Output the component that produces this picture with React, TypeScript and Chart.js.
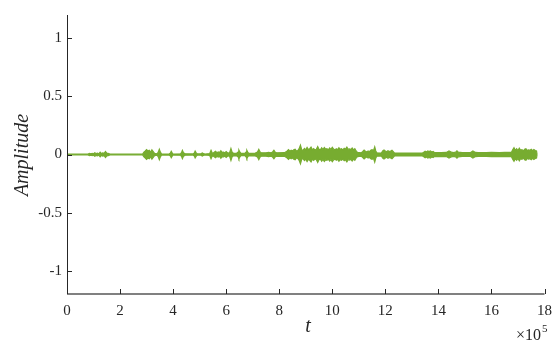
import React, { useEffect, useRef } from "react";
import { Chart, registerables } from "chart.js";

Chart.register(...registerables);

// envelope of the waveform: time (x 1e5 samples) and half-amplitude
const envTime = [
  0, 0.79, 0.85, 0.9, 0.95, 1.0, 1.05, 1.1, 1.15, 1.2, 1.25, 1.3, 1.35, 1.4, 1.45, 1.5, 1.55, 1.62,
  2.85, 2.9, 2.95, 3.0, 3.05, 3.1, 3.15, 3.2, 3.25, 3.3, 3.4, 3.44, 3.48, 3.52, 3.56,
  3.85, 3.9, 3.93, 3.97, 4.0, 4.28, 4.32, 4.35, 4.39, 4.45, 4.75, 4.8, 4.83, 4.87, 4.92,
  5.05, 5.1, 5.15, 5.2, 5.38, 5.43, 5.47, 5.5, 5.55, 5.6, 5.65, 5.7, 5.75, 5.8, 5.85, 5.9, 5.95, 6.0,
  6.08, 6.14, 6.18, 6.22, 6.28, 6.4, 6.45, 6.48, 6.52, 6.56, 6.7, 6.75, 6.78, 6.82, 6.86,
  7.1, 7.18, 7.23, 7.28, 7.33, 7.5, 7.6, 7.7, 7.75, 7.8, 7.85, 7.9, 8.2, 8.3, 8.35, 8.4, 8.45, 8.5,
  8.55, 8.6, 8.65, 8.7, 8.75, 8.8, 8.85, 8.9, 8.95, 9.0, 9.05, 9.1, 9.15, 9.2, 9.25, 9.3, 9.35,
  9.4, 9.45, 9.5, 9.55, 9.6, 9.65, 9.7, 9.75, 9.8, 9.85, 9.9, 9.95, 10.0, 10.05, 10.1, 10.15,
  10.2, 10.25, 10.3, 10.35, 10.4, 10.45, 10.5, 10.55, 10.6, 10.65, 10.7, 10.75, 10.8, 10.85,
  10.9, 10.95, 11.1, 11.15, 11.2, 11.25, 11.3, 11.35, 11.4, 11.45, 11.5, 11.55, 11.6, 11.64, 11.68,
  11.85, 11.9, 11.95, 12.0, 12.05, 12.1, 12.15, 12.2, 12.25, 12.3, 12.35, 13.4, 13.45, 13.5,
  13.55, 13.6, 13.65, 13.7, 13.75, 13.8, 13.85, 14.1, 14.3, 14.4, 14.5, 14.55, 14.65, 14.7,
  14.75, 14.9, 15.2, 15.3, 15.4, 15.5, 15.8, 16.0, 16.3, 16.5, 16.75, 16.8, 16.85, 16.9, 16.95,
  17.0, 17.05, 17.1, 17.15, 17.2, 17.25, 17.3, 17.35, 17.4, 17.45, 17.5, 17.55, 17.6, 17.65,
  17.7, 17.72,
];
const envAmp = [
  0.003, 0.003, 0.01, 0.005, 0.009, 0.006, 0.015, 0.007, 0.011, 0.006, 0.02, 0.008, 0.014, 0.01, 0.026, 0.012, 0.01, 0.003,
  0.003, 0.02, 0.03, 0.042, 0.03, 0.036, 0.02, 0.04, 0.025, 0.01, 0.005, 0.02, 0.045, 0.02, 0.005,
  0.004, 0.012, 0.028, 0.012, 0.004, 0.006, 0.018, 0.036, 0.016, 0.006, 0.005, 0.014, 0.03, 0.014, 0.005,
  0.006, 0.014, 0.007, 0.004, 0.008, 0.036, 0.015, 0.01, 0.02, 0.028, 0.015, 0.022, 0.016, 0.032, 0.018, 0.02, 0.014, 0.026,
  0.01, 0.022, 0.052, 0.022, 0.01, 0.012, 0.02, 0.038, 0.02, 0.01, 0.01, 0.02, 0.036, 0.018, 0.01,
  0.012, 0.022, 0.044, 0.022, 0.014, 0.015, 0.018, 0.015, 0.022, 0.036, 0.02, 0.015, 0.016, 0.03, 0.042, 0.028, 0.036, 0.03,
  0.04, 0.046, 0.03, 0.034, 0.05, 0.08, 0.04, 0.036, 0.052, 0.04, 0.06, 0.042, 0.05, 0.064, 0.04, 0.05, 0.038,
  0.046, 0.068, 0.045, 0.04, 0.058, 0.042, 0.06, 0.046, 0.05, 0.04, 0.056, 0.044, 0.062, 0.046, 0.04, 0.05,
  0.042, 0.058, 0.044, 0.05, 0.04, 0.054, 0.046, 0.064, 0.044, 0.048, 0.042, 0.056, 0.04, 0.05,
  0.03, 0.018, 0.015, 0.026, 0.038, 0.028, 0.022, 0.03, 0.024, 0.036, 0.042, 0.03, 0.066, 0.03, 0.014,
  0.012, 0.03, 0.038, 0.03, 0.024, 0.032, 0.026, 0.03, 0.036, 0.024, 0.012, 0.012, 0.02, 0.028,
  0.022, 0.03, 0.025, 0.03, 0.022, 0.026, 0.018, 0.016, 0.018, 0.03, 0.02, 0.016, 0.02, 0.032,
  0.02, 0.016, 0.016, 0.03, 0.018, 0.016, 0.016, 0.018, 0.016, 0.018, 0.018, 0.04, 0.058, 0.036, 0.05,
  0.034, 0.054, 0.036, 0.042, 0.03, 0.046, 0.05, 0.034, 0.04, 0.036, 0.044, 0.032, 0.042, 0.034,
  0.03, 0,
];
const xTicks = [0, 2, 4, 6, 8, 10, 12, 14, 16, 18];
const yTicks = [-1, -0.5, 0, 0.5, 1];

const GREEN = "#77AC30";
const SERIF = "'Liberation Serif', 'DejaVu Serif', serif";

export default function App() {
  const ref = useRef<HTMLCanvasElement>(null);
  useEffect(() => {
    document.body.style.margin = "0";
    const upper = envTime.map((t, i) => ({ x: t * 1e5, y: envAmp[i] }));
    const lower = envTime.map((t, i) => ({ x: t * 1e5, y: -envAmp[i] }));

    const axesPlugin = {
      id: "matlabAxes",
      afterDraw(chart: any) {
        const { ctx, chartArea } = chart;
        const xs = chart.scales.x;
        const ys = chart.scales.y;
        ctx.save();
        // spines
        ctx.strokeStyle = "#262626";
        ctx.lineWidth = 1;
        ctx.beginPath();
        ctx.moveTo(chartArea.left + 0.5, chartArea.top);
        ctx.lineTo(chartArea.left + 0.5, chartArea.bottom);
        ctx.stroke();
        ctx.strokeStyle = "#808080";
        ctx.lineWidth = 2;
        ctx.beginPath();
        ctx.moveTo(chartArea.left, chartArea.bottom);
        ctx.lineTo(chartArea.right, chartArea.bottom);
        ctx.stroke();
        // inward ticks
        ctx.strokeStyle = "#262626";
        ctx.lineWidth = 1;
        ctx.beginPath();
        xTicks.forEach((v) => {
          const px = Math.round(xs.getPixelForValue(v * 1e5)) + 0.5;
          ctx.moveTo(px, chartArea.bottom);
          ctx.lineTo(px, chartArea.bottom - 5);
        });
        yTicks.forEach((v) => {
          const py = Math.round(ys.getPixelForValue(v)) + 0.5;
          ctx.moveTo(chartArea.left, py);
          ctx.lineTo(chartArea.left + 5, py);
        });
        ctx.stroke();
        // titles
        ctx.fillStyle = "#262626";
        ctx.font = `italic 20px ${SERIF}`;
        ctx.textAlign = "center";
        ctx.textBaseline = "middle";
        ctx.fillText("t", 308, 327);
        ctx.save();
        ctx.translate(23, 155);
        ctx.rotate(-Math.PI / 2);
        ctx.fillText("Amplitude", 0, 0);
        ctx.restore();
        ctx.textAlign = "left";
        ctx.textBaseline = "alphabetic";
        ctx.font = `16px ${SERIF}`;
        const mult = "\u00d710";
        const w = ctx.measureText(mult).width;
        const x0 = 541 - w;
        ctx.fillText(mult, x0, 340);
        ctx.font = `11px ${SERIF}`;
        ctx.fillText("5", x0 + w + 1, 332);
        ctx.restore();
      },
    };

    const chart = new Chart(ref.current!, {
      type: "scatter",
      data: {
        datasets: [
          {
            data: upper,
            showLine: true,
            borderColor: GREEN,
            backgroundColor: GREEN,
            borderWidth: 1.2,
            pointRadius: 0,
            fill: false,
          },
          {
            data: lower,
            showLine: true,
            borderColor: GREEN,
            backgroundColor: GREEN,
            borderWidth: 1.2,
            pointRadius: 0,
            fill: "-1",
          },
        ],
      },
      options: {
        animation: false,
        responsive: true,
        maintainAspectRatio: false,
        layout: { padding: { top: 15, right: 12, left: 0, bottom: 0 } },
        plugins: { legend: { display: false }, tooltip: { enabled: false } },
        scales: {
          x: {
            type: "linear",
            min: 0,
            max: 18e5,
            afterBuildTicks: (s: any) => {
              s.ticks = xTicks.map((v) => ({ value: v * 1e5 }));
            },
            afterFit: (s: any) => {
              s.height = 49;
            },
            grid: { display: false, drawTicks: false },
            border: { display: false },
            ticks: {
              padding: 8,
              color: "#262626",
              font: { family: SERIF, size: 15 },
              maxRotation: 0,
              autoSkip: false,
              callback: (v: any) => String(Math.round(Number(v) / 1e5)),
            },
          },
          y: {
            type: "linear",
            min: -1.2,
            max: 1.2,
            afterBuildTicks: (s: any) => {
              s.ticks = yTicks.map((v) => ({ value: v }));
            },
            afterFit: (s: any) => {
              s.width = 67;
            },
            grid: { display: false, drawTicks: false },
            border: { display: false },
            ticks: {
              padding: 5,
              color: "#262626",
              font: { family: SERIF, size: 15 },
              autoSkip: false,
              callback: (v: any) => String(v),
            },
          },
        },
      },
      plugins: [axesPlugin],
    });
    return () => chart.destroy();
  }, []);
  return (
    <div style={{ width: 560, height: 343, position: "relative" }}>
      <canvas ref={ref} />
    </div>
  );
}
